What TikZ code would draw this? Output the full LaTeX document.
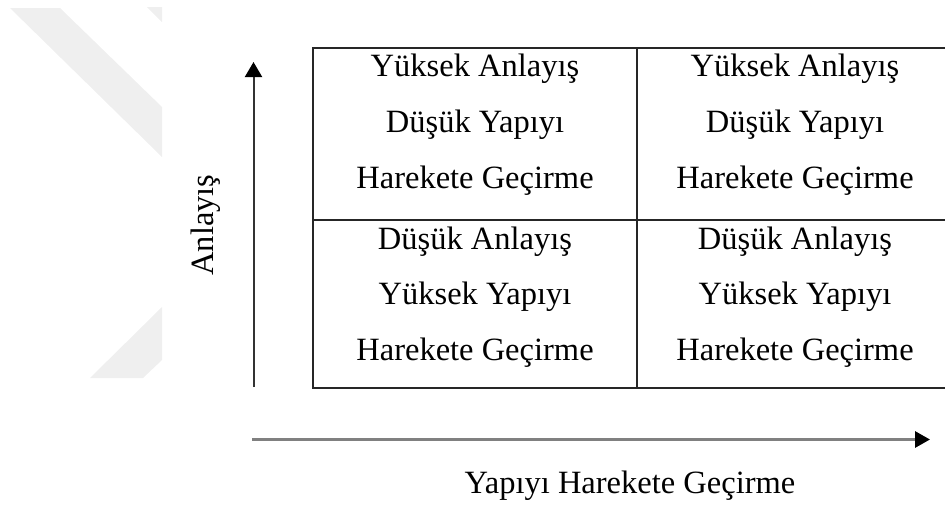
\documentclass[tikz,border=0pt]{standalone}
\usepackage{fontspec}
\setmainfont{Liberation Serif}
\usetikzlibrary{arrows.meta}
\definecolor{wm}{HTML}{EFEFEF}
\definecolor{boxline}{HTML}{262626}
\definecolor{vline}{HTML}{333333}
\definecolor{hline}{HTML}{808080}
\begin{document}
\begin{tikzpicture}[x=1pt,y=-1pt,
  celltext/.style={inner sep=0pt, anchor=base, font=\fontsize{32.5}{39}\selectfont},
  axislabel/.style={inner sep=0pt, font=\fontsize{32.5}{39}\selectfont},
  gridline/.style={draw=boxline, line width=2pt}]
\useasboundingbox (0,0) rectangle (945,504);
\begin{scope}
\clip (0,0) rectangle (945,504);
% faint background shapes
\fill[wm] (10,8) -- (60,8) -- (162,107) -- (162,157) -- cycle;
\fill[wm] (147,7) -- (162,7) -- (162,22) -- cycle;
\fill[wm] (90,378) -- (143,378) -- (162,360) -- (162,307) -- cycle;
% grid
\coordinate (tl) at (313,47.5);
\coordinate (br) at (955,388);
\coordinate (mt) at (637,47.5);
\coordinate (mb) at (637,388);
\coordinate (ml) at (313,219.5);
\coordinate (mr) at (955,219.5);
\draw[gridline] (tl) rectangle (br);
\draw[gridline] (mt) -- (mb);
\draw[gridline] (ml) -- (mr);
\end{scope}
% cell texts
\node[celltext] (a1) at (475,76.5) {Yüksek Anlayış};
\node[celltext] (a2) at (475,132) {Düşük Yapıyı};
\node[celltext] (a3) at (475,188) {Harekete Geçirme};
\node[celltext] (b1) at (795,76.5) {Yüksek Anlayış};
\node[celltext] (b2) at (795,132) {Düşük Yapıyı};
\node[celltext] (b3) at (795,188) {Harekete Geçirme};
\node[celltext] (c1) at (475,249.5) {Düşük Anlayış};
\node[celltext] (c2) at (475,304.5) {Yüksek Yapıyı};
\node[celltext] (c3) at (475,360.5) {Harekete Geçirme};
\node[celltext] (d1) at (795,249.5) {Düşük Anlayış};
\node[celltext] (d2) at (795,304.5) {Yüksek Yapıyı};
\node[celltext] (d3) at (795,360.5) {Harekete Geçirme};
% axes
\coordinate (vs) at (253.5,387);
\coordinate (ve) at (253.5,62);
\draw[draw=vline, line width=2pt, -{Triangle[length=15pt,width=17pt,color=black]}] (vs) -- (ve);
\coordinate (hs) at (252,439.5);
\coordinate (he) at (930,439.5);
\draw[draw=hline, line width=3pt, -{Triangle[length=15pt,width=16pt,color=black]}] (hs) -- (he);
\node[axislabel, rotate=90] (ylab) at (206,225) {Anlayış};
\node[celltext] (xlab) at (630,493) {Yapıyı Harekete Geçirme};
\end{tikzpicture}
\end{document}
